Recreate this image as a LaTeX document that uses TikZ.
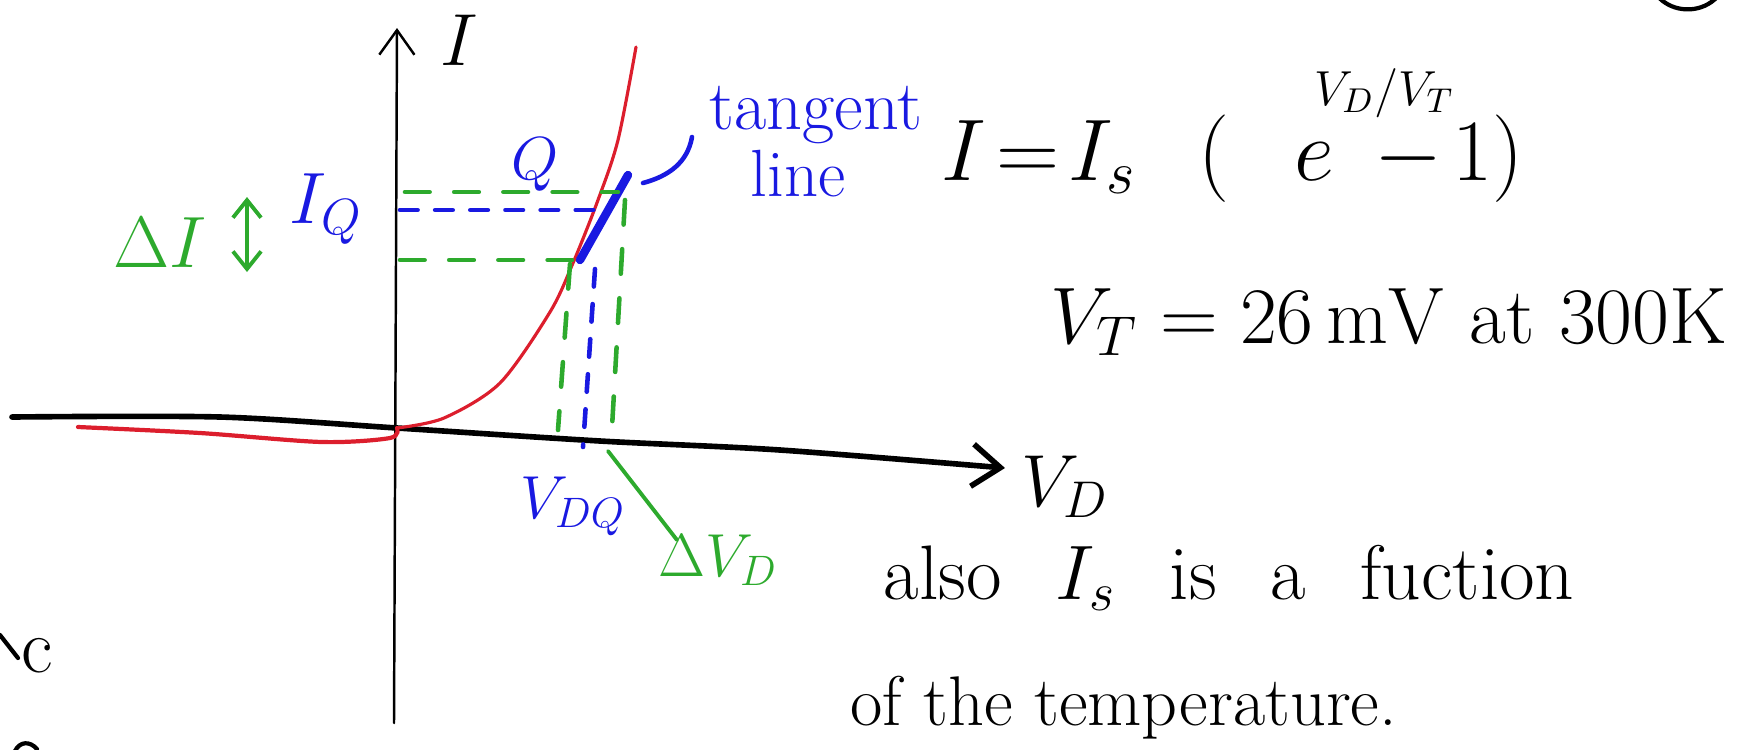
\RequirePackage{fix-cm}
\documentclass[tikz,border=0pt]{standalone}
\usepackage{amsmath, amssymb}
\usepackage{xcolor}
\usepackage{tikz}
\usetikzlibrary{arrows.meta, positioning}

\definecolor{penred}{RGB}{220,30,45}
\definecolor{penblue}{RGB}{25,25,225}
\definecolor{pengreen}{RGB}{45,170,45}

\begin{document}
\begin{tikzpicture}[>={Straight Barb[length=7pt,width=10pt]}, line cap=round, line join=round,
    bluedash/.style={penblue, line width=1.3pt, dash pattern=on 5pt off 5pt},
    greendash/.style={pengreen, line width=1.3pt, dash pattern=on 7pt off 7pt},
    hand/.style={inner sep=0pt, font=\fontsize{#1}{#1}\selectfont}]
    \useasboundingbox (0,0) rectangle (17.41,7.49);

    % 1. Hệ trục tọa độ
    \coordinate (ybot) at (3.94,0.26);
    \coordinate (ytop) at (3.97,7.21);
    \draw[->, line width=0.7pt] (ybot) -- (ytop);
    \draw[-{Straight Barb[length=8pt,width=12pt]}, line width=1.6pt] plot[smooth]
        coordinates {(0.12,3.32) (2.2,3.32) (3.97,3.21) (6.0,3.08) (7.8,2.99) (10.05,2.81)};
    \node[hand=21] (ilbl) at (4.59,7.09) {$I$};
    \node[hand=21] (vdlbl) at (10.65,2.62) {$V_D$};

    % 2. Đặc tuyến diode
    \draw[penred, line width=1.2pt] plot[smooth]
        coordinates {(0.78,3.22) (2.0,3.16) (3.22,3.07) (3.90,3.11) (3.97,3.21)};
    \draw[penred, line width=0.9pt] plot[smooth]
        coordinates {(3.97,3.21) (4.44,3.31) (5.00,3.66) (5.50,4.37) (5.73,4.86) (5.98,5.49) (6.18,6.09) (6.36,7.02)};

    % 3. Điểm Q, tiếp tuyến
    \coordinate (Q) at (5.95,5.39);
    \coordinate (tlow) at (5.80,4.89);
    \coordinate (thigh) at (6.28,5.74);
    \draw[penblue, line width=2.4pt] (tlow) -- (thigh);
    \node[hand=17.3, penblue] (qlbl) at (5.35,5.84) {$Q$};
    \node[hand=20, penblue, anchor=base] (tanlbl) at (8.16,6.20) {tangent};
    \node[hand=19, penblue, anchor=base] (linelbl) at (7.98,5.53) {line};
    \coordinate (tfrom) at (6.43,5.66);
    \coordinate (tto) at (6.92,6.12);
    \draw[penblue, line width=1.3pt] (tfrom) to[out=15, in=-100] (tto);

    % 4. Đường gióng
    \coordinate (iq) at (4.00,5.39);
    \coordinate (vqtop) at (5.95,4.80);
    \coordinate (vqbot) at (5.83,3.02);
    \draw[bluedash] (iq) -- (Q);
    \draw[bluedash] (vqtop) -- (vqbot);
    \coordinate (iup) at (4.05,5.57);  \coordinate (iupend) at (6.18,5.57);
    \coordinate (idn) at (4.00,4.89);  \coordinate (idnend) at (5.72,4.89);
    \coordinate (vltop) at (5.70,4.85); \coordinate (vlbot) at (5.58,3.19);
    \coordinate (vrtop) at (6.25,5.49); \coordinate (vrbot) at (6.11,3.04);
    \draw[greendash] (iup) -- (iupend);
    \draw[greendash] (idn) -- (idnend);
    \draw[greendash] (vltop) -- (vlbot);
    \draw[greendash] (vrtop) -- (vrbot);

    % 5. Nhãn I_Q, V_DQ, Delta
    \node[hand=20.7, penblue] (iqlbl) at (3.26,5.40) {$I_Q$};
    \node[hand=17.3, penblue] (vdqlbl) at (5.73,2.43) {$V_{DQ}$};
    \node[hand=20.7, pengreen] (dilbl) at (1.60,5.06) {$\Delta I$};
    \node[hand=17.3, pengreen] (dvlbl) at (7.18,1.89) {$\Delta V_D$};
    \coordinate (dtop) at (2.47,5.52);
    \coordinate (dbot) at (2.47,4.77);
    \draw[pengreen, line width=1.1pt, {Straight Barb[length=5pt,width=8pt]}-{Straight Barb[length=5pt,width=8pt]}] (dtop) -- (dbot);
    \coordinate (dvend) at (6.77,2.09);
    \draw[pengreen, line width=1.1pt] (6.08,2.98) -- (dvend);

    % 6. Công thức
    \node[hand=24.9, anchor=base west] (eq) at (9.41,5.69)
        {$I \!=\! I_s\hspace{0.62cm}(\hspace{0.65cm}e\rlap{\hspace{-0.2cm}\raisebox{0.75cm}{\fontsize{14}{14}\selectfont$V_D/V_T$}}\hspace{0.4cm}{-}\hspace{0.1cm}1)$};
    \node[hand=22.8, anchor=base west] (vt) at (10.50,4.06) {$V_T = 26\,\mathrm{mV}$ at 300K};
    \node[hand=22, anchor=base west] (note1) at (8.83,1.50) {\spaceskip=0.54cm also $I_s$ is a fuction};
    \node[hand=20, anchor=base west] (note2) at (8.50,0.24) {of the temperature.};

    % 7. Phần bị cắt ở mép
    \node[hand=22] (cut) at (0.37,0.93) {c};
    \draw[line width=1.2pt] (0.0,1.14) -- (0.18,0.91);
    \draw[line width=1.2pt] (16.52,7.62) arc[start angle=200, end angle=340, x radius=0.38, y radius=0.34];
    \draw[line width=1.2pt] (0.15,-0.02) .. controls (0.2,0.08) and (0.3,0.08) .. (0.37,0.0);
\end{tikzpicture}
\end{document}
